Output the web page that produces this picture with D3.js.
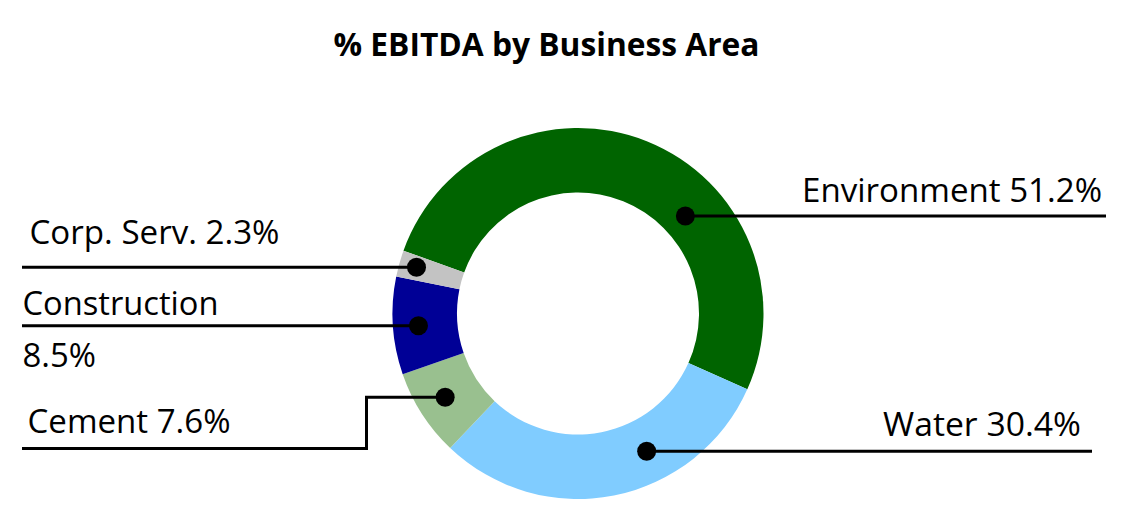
<!DOCTYPE html>
<html>
<head>
<meta charset="utf-8">
<script src="https://cdn.jsdelivr.net/npm/d3@7"></script>
<style>
  body { margin: 0; background: #fff; }
  text { font-family: "Open Sans", "Noto Sans", sans-serif; fill: #000; }
</style>
</head>
<body>
<svg id="chart"></svg>
<script>
const categories = ["Environment", "Water", "Cement", "Construction", "Corp. Serv."];
const values = [51.2, 30.4, 7.6, 8.5, 2.3];
const colors = ["#006400", "#80CCFF", "#99C08F", "#000096", "#C3C3C3"];
// label lines as shown (construction label wraps)
const labelLines = [
    ["Environment 51.2%"],
    ["Water 30.4%"],
    ["Cement 7.6%"],
    ["Construction", "8.5%"],
    ["Corp. Serv. 2.3%"]
];

const width = 1141, height = 522;
const cx = 578, cy = 313.5;
const outerR = 185.5, innerR = 121;
const startDeg = -70.2;

// where the leader dot sits inside each slice, and where the callout goes
const layout = [
    {frac: 0.64, r: 145, lineX: 1106, textAnchor: "end", tx: 1102, ty: 201.5, widths: [300]},
    {frac: 0.36, r: 154, lineX: 1092, textAnchor: "end", tx: 1081, ty: 436, widths: [198]},
    {frac: 0.52, r: 157, lineX: 22, elbowX: 366.5, elbowY: 448.5, textAnchor: "start", tx: 27.5, ty: 432.5, widths: [203]},
    {frac: 0.48, r: 160, lineX: 22, textAnchor: "start", tx: 22.5, ty: 314.5, lineGap: 52, widths: [196, 73.5]},
    {frac: 0.54, r: 168, lineX: 22, textAnchor: "start", tx: 29.5, ty: 243.5, widths: [250]}
];

const data = categories.map((c, i) => ({name: c, value: values[i], color: colors[i], lines: labelLines[i], lay: layout[i]}));

const svg = d3.select("#chart")
    .attr("width", width)
    .attr("height", height);

// title
svg.append("text")
    .attr("x", 546.5)
    .attr("y", 55.5)
    .attr("text-anchor", "middle")
    .attr("font-size", 33)
    .attr("font-weight", "bold")
    .attr("textLength", 426)
    .attr("lengthAdjust", "spacingAndGlyphs")
    .text("% EBITDA by Business Area");

const pie = d3.pie()
    .sort(null)
    .value(d => d.value)
    .startAngle(startDeg * Math.PI / 180)
    .endAngle(startDeg * Math.PI / 180 + 2 * Math.PI);

const arc = d3.arc().innerRadius(innerR).outerRadius(outerR);

const g = svg.append("g").attr("transform", "translate(" + cx + "," + cy + ")");
const arcs = pie(data);

g.selectAll(".slice").data(arcs).enter().append("path")
    .classed("slice", true)
    .attr("d", arc)
    .attr("fill", d => d.data.color);

// dot positions in page coordinates
arcs.forEach(d => {
    const l = d.data.lay;
    const a = d.startAngle + l.frac * (d.endAngle - d.startAngle);
    const p = d3.arc().innerRadius(l.r).outerRadius(l.r).centroid({startAngle: a, endAngle: a});
    d.dot = [cx + p[0], cy + p[1]];
});

// leader lines
svg.selectAll(".leader").data(arcs).enter().append("path")
    .classed("leader", true)
    .attr("fill", "none")
    .attr("stroke", "#000")
    .attr("stroke-width", 3)
    .attr("d", d => {
        const l = d.data.lay;
        const [x, y] = d.dot;
        if (l.elbowX !== undefined) {
            return "M" + x + "," + y + "H" + l.elbowX + "V" + l.elbowY + "H" + l.lineX;
        }
        return "M" + x + "," + y + "H" + l.lineX;
    });

svg.selectAll(".dot").data(arcs).enter().append("circle")
    .classed("dot", true)
    .attr("cx", d => d.dot[0])
    .attr("cy", d => d.dot[1])
    .attr("r", 9.5)
    .attr("fill", "#000");

// labels
arcs.forEach(d => {
    const l = d.data.lay;
    d.data.lines.forEach((line, k) => {
        svg.append("text")
            .classed("label", true)
            .attr("x", l.tx)
            .attr("y", l.ty + k * (l.lineGap || 0))
            .attr("text-anchor", l.textAnchor)
            .attr("font-size", 32)
            .attr("textLength", l.widths[k])
            .attr("lengthAdjust", "spacingAndGlyphs")
            .text(line);
    });
});
</script>
</body>
</html>
